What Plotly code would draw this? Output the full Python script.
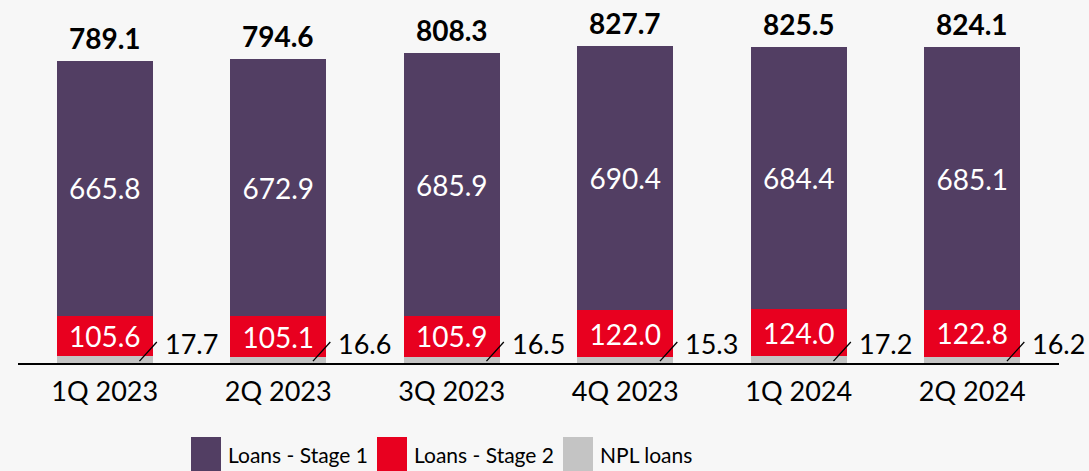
import plotly.graph_objects as go

quarters = ["1Q 2023", "2Q 2023", "3Q 2023", "4Q 2023", "1Q 2024", "2Q 2024"]
stage1 = [665.8, 672.9, 685.9, 690.4, 684.4, 685.1]
stage2 = [105.6, 105.1, 105.9, 122.0, 124.0, 122.8]
npl = [17.7, 16.6, 16.5, 15.3, 17.2, 16.2]
totals = [789.1, 794.6, 808.3, 827.7, 825.5, 824.1]

C_S1 = "#523e63"
C_S2 = "#e8001f"
C_NPL = "#c4c4c4"
BG = "#f7f7f7"
FONT = "Lato"

xs = list(range(len(quarters)))
bar_w = 0.554

fig = go.Figure()
fig.add_trace(go.Bar(x=xs, y=npl, marker_color=C_NPL, width=bar_w, name="NPL loans",
                     marker_line_width=0, hoverinfo="skip"))
fig.add_trace(go.Bar(x=xs, y=stage2, marker_color=C_S2, width=bar_w, name="Loans - Stage 2",
                     marker_line_width=0, text=[f"{v:.1f}" for v in stage2],
                     textposition="inside", insidetextanchor="middle", constraintext="none",
                     textfont=dict(color="white", size=28, family=FONT)))
fig.add_trace(go.Bar(x=xs, y=stage1, marker_color=C_S1, width=bar_w, name="Loans - Stage 1",
                     marker_line_width=0, text=[f"{v:.1f}" for v in stage1],
                     textposition="inside", insidetextanchor="middle", constraintext="none",
                     textfont=dict(color="white", size=28, family=FONT)))

# Totals above each stack
for x, t in zip(xs, totals):
    fig.add_annotation(x=x, y=t, text=f"<b>{t:.1f}</b>", showarrow=False,
                       yanchor="bottom", yshift=4,
                       font=dict(size=28, color="black", family=FONT))

# NPL values with small leader lines
for x, v in zip(xs, npl):
    fig.add_shape(type="line", xref="x", yref="y", x0=x + 0.2, y0=5, x1=x + 0.3, y1=55,
                  line=dict(color="black", width=1.3))
    fig.add_annotation(x=x + 0.335, y=52, text=f"{v:.1f}", showarrow=False,
                       xanchor="left", yanchor="middle",
                       font=dict(size=27, color="black", family=FONT))

# Legend drawn as swatches + labels
W, H = 1089, 471
PL, PW, PB, PH = 18, 1041, 363, 363


def px_x(p):
    return (p - PL) / PW


def px_y(p):
    return (PB - p) / PH


legend_items = [("Loans - Stage 1", C_S1, 191), ("Loans - Stage 2", C_S2, 377), ("NPL loans", C_NPL, 563)]
for label, col, px in legend_items:
    fig.add_shape(type="rect", xref="paper", yref="paper",
                  x0=px_x(px), x1=px_x(px + 30),
                  y0=px_y(472), y1=px_y(437),
                  fillcolor=col, line_width=0)
    fig.add_annotation(xref="paper", yref="paper", x=px_x(px + 35), y=px_y(455),
                       text=label, showarrow=False, xanchor="left", yanchor="middle",
                       font=dict(size=21, color="black", family=FONT))

fig.update_layout(
    width=W, height=H, barmode="stack", showlegend=False,
    paper_bgcolor=BG, plot_bgcolor=BG,
    margin=dict(l=18, r=30, t=0, b=108),
    font=dict(family=FONT, size=26, color="black"),
    xaxis=dict(range=[-0.5, 5.5], tickvals=xs, ticktext=quarters, showgrid=False,
               zeroline=False, showline=True, linecolor="black", linewidth=2,
               ticks="outside", ticklen=4, tickcolor=BG, tickfont=dict(size=27, family=FONT)),
    yaxis=dict(range=[0, 948], visible=False, showgrid=False, zeroline=False),
)

fig.write_html("out.html")
